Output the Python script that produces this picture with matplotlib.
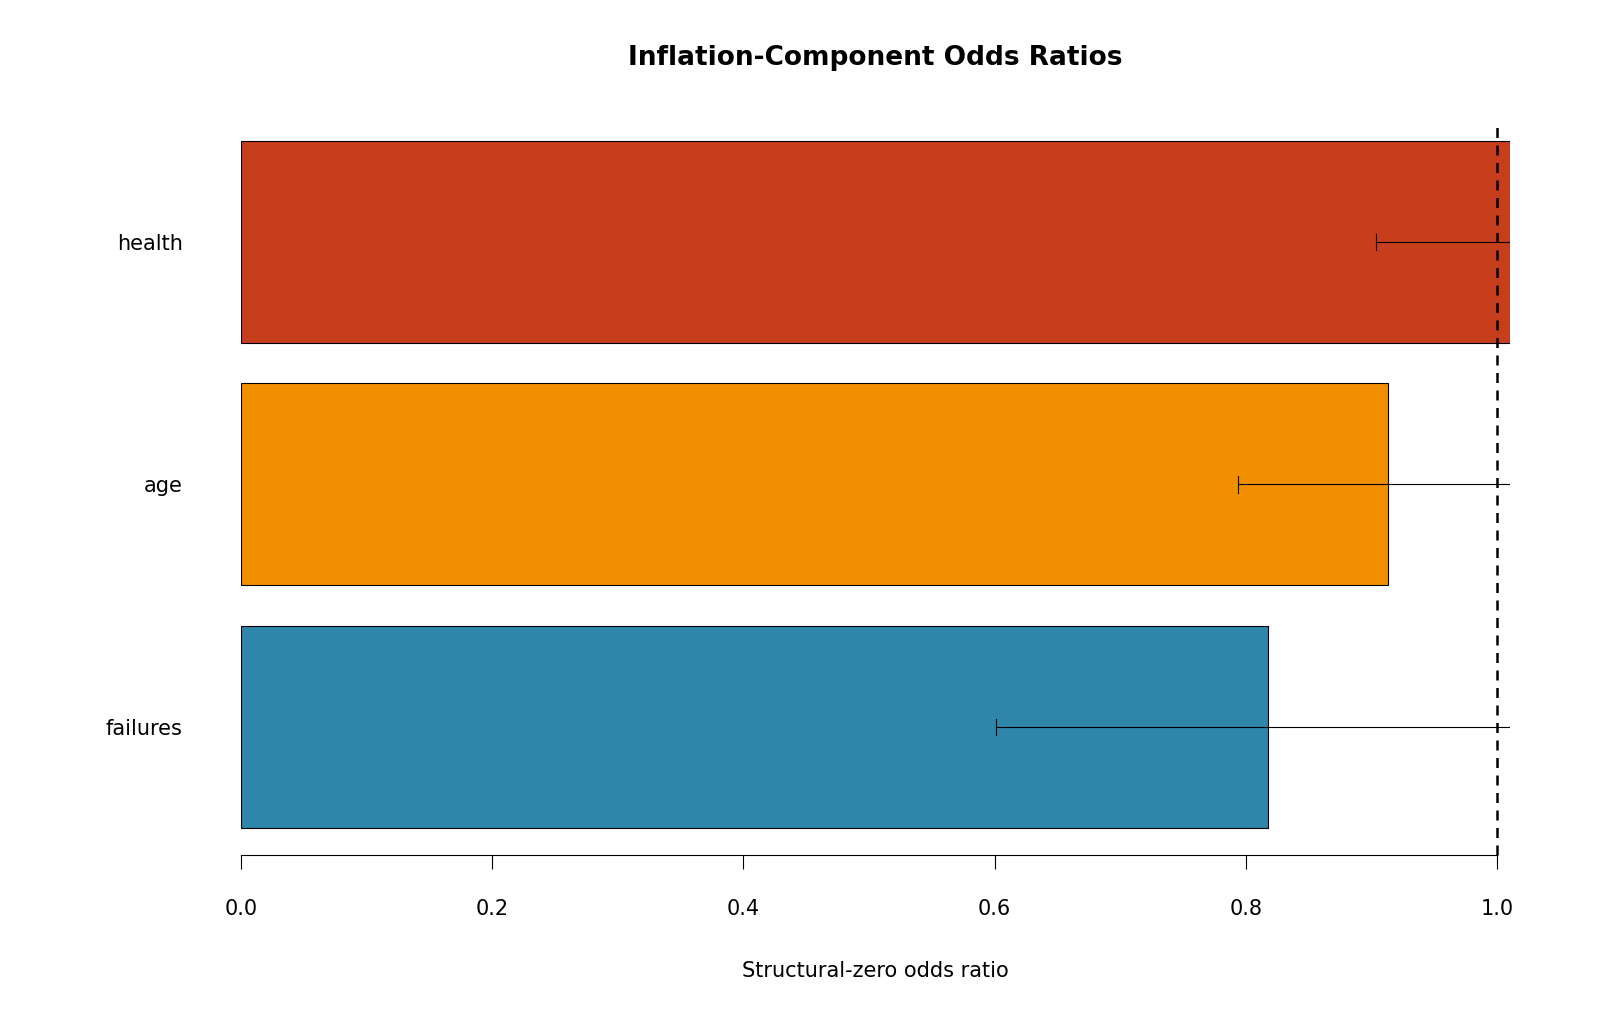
import matplotlib
matplotlib.use("Agg")
import matplotlib.pyplot as plt
import numpy as np

categories = ["failures", "age", "health"]
odds = [0.818, 0.913, 1.0104]
ci_low = [0.601, 0.794, 0.904]
ci_high = [1.12, 1.06, 1.08]
colors = ["#2E86AB", "#F18F01", "#C73E1D"]
ticks = [0.0, 0.2, 0.4, 0.6, 0.8, 1.0]

fig = plt.figure(figsize=(16, 10.18), dpi=100)
ax = fig.add_axes([241/1600, 1-855/1018, (1510-241)/1600, (855-122)/1018])
ypos = np.array([0.7, 1.9, 3.1])
ax.barh(ypos, odds, height=1.0, color=colors, edgecolor="black", linewidth=0.8)
for y, lo, hi in zip(ypos, ci_low, ci_high):
    ax.plot([lo, hi], [y, y], color="black", lw=0.8, clip_on=True)
    ax.plot([lo, lo], [y-0.04, y+0.04], color="black", lw=0.8)
ax.axvline(1.0, color="black", ls=(0, (4, 3)), lw=1.8, ymin=0, ymax=1, clip_on=False)
ax.set_xlim(0, 1.0104)
ax.set_ylim(0.066, 3.694)
for s in ["top", "right", "left"]:
    ax.spines[s].set_visible(False)
ax.spines["bottom"].set_bounds(0, 1)
ax.spines["bottom"].set_linewidth(0.8)
ax.set_xticks(ticks)
ax.set_xticklabels([f"{t:.1f}" for t in ticks], fontsize=15)
ax.tick_params(axis="x", length=10, width=0.8, pad=22)
ax.set_yticks(ypos)
ax.set_yticklabels(categories, fontsize=15)
ax.tick_params(axis="y", length=0, pad=42)
ax.set_xlabel("Structural-zero odds ratio", fontsize=15, labelpad=30)
fig.text((241+1510)/2/1600, 1-58/1018, "Inflation-Component Odds Ratios",
         ha="center", va="center", fontsize=19, fontweight="bold")
fig.savefig("out.png", dpi=100)
